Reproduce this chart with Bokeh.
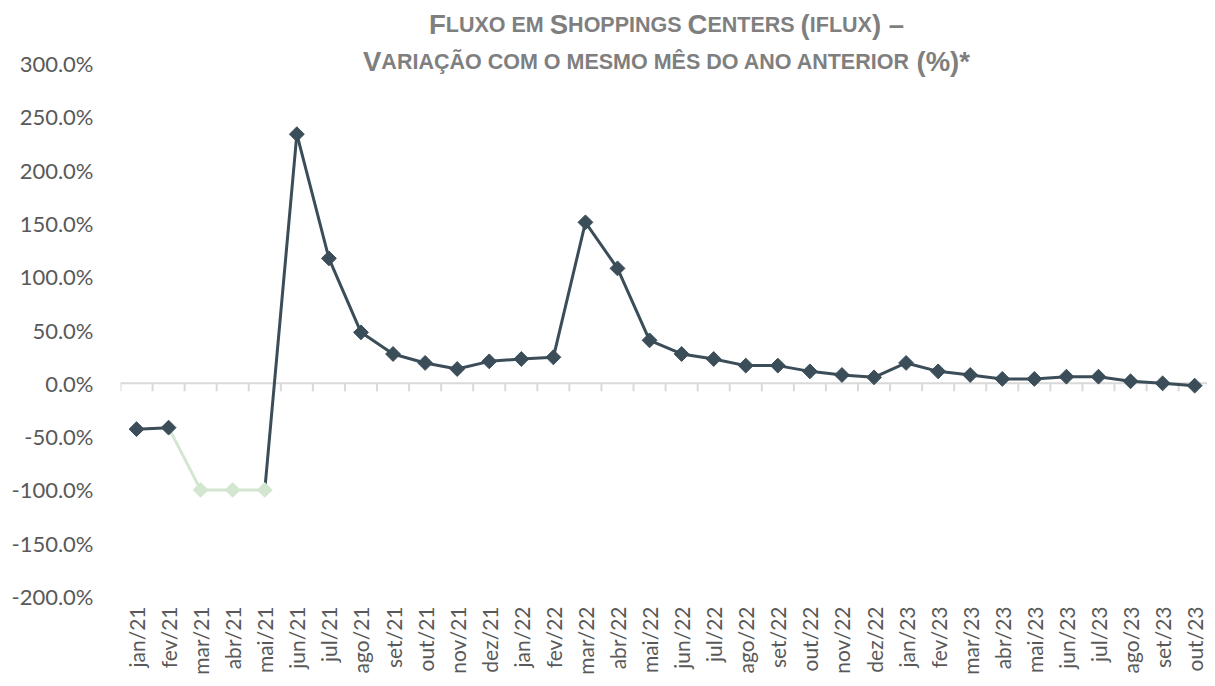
import math
from bokeh.plotting import figure
from bokeh.models import Range1d, FixedTicker, PrintfTickFormatter, Span, Label, ColumnDataSource
from bokeh.core.properties import value
from bokeh.embed import file_html
from bokeh.resources import INLINE

# ---------------- data ----------------
months = ["jan/21", "fev/21", "mar/21", "abr/21", "mai/21", "jun/21", "jul/21", "ago/21",
          "set/21", "out/21", "nov/21", "dez/21", "jan/22", "fev/22", "mar/22", "abr/22",
          "mai/22", "jun/22", "jul/22", "ago/22", "set/22", "out/22", "nov/22", "dez/22",
          "jan/23", "fev/23", "mar/23", "abr/23", "mai/23", "jun/23", "jul/23", "ago/23",
          "set/23", "out/23"]
values = [-43.0, -41.6, -100.0, -100.0, -100.0, 233.7, 117.2, 47.8,
          27.5, 19.1, 13.4, 20.6, 22.8, 24.4, 151.0, 107.8,
          40.3, 27.5, 22.8, 16.6, 16.6, 11.2, 7.8, 5.6,
          19.1, 11.2, 7.8, 4.1, 4.1, 6.2, 6.2, 1.9,
          0.0, -2.2]
highlighted_months = ["mar/21", "abr/21", "mai/21"]
y_ticks = [-200, -150, -100, -50, 0, 50, 100, 150, 200, 250, 300]
title_line1 = "Fluxo em Shoppings Centers (iflux) –"
title_line2 = "Variação com o mesmo mês do ano anterior (%)*"

# ---------------- styles ----------------
DARK = "#3a4d58"
LIGHT = "#d3e6d0"
AXIS_GRAY = "#d9d9d9"
LABEL_GRAY = "#595959"
TITLE_GRAY = "#7f7f7f"
FONT = "Lato"
TITLE_FONT = "Liberation Sans"

W, H = 1207, 678
LEFT = 120
PLOT_TOP, PLOT_BOTTOM = 63, 596      # canvas rows of the 300% and -200% gridlines
PX = (PLOT_BOTTOM - PLOT_TOP) / (y_ticks[-1] - y_ticks[0])
y_start = y_ticks[0] - (H - PLOT_BOTTOM) / PX
y_end = y_ticks[-1] + PLOT_TOP / PX

p = figure(width=W, height=H, output_backend="svg", toolbar_location=None,
           min_border_left=LEFT, min_border_right=0, min_border_top=0,
           min_border_bottom=0, x_axis_location=None,
           x_range=Range1d(-0.5, 33.4), y_range=Range1d(y_start, y_end))
p.outline_line_color = None
p.xgrid.visible = False
p.ygrid.visible = False
p.background_fill_color = "white"
p.border_fill_color = "white"

# y axis
p.yaxis.ticker = FixedTicker(ticks=y_ticks)
p.yaxis.formatter = PrintfTickFormatter(format="%.1f%%")
p.yaxis.axis_line_color = None
p.yaxis.major_tick_line_color = None
p.yaxis.major_tick_out = 0
p.yaxis.major_tick_in = 0
p.yaxis.minor_tick_line_color = None
p.yaxis.major_label_text_font = FONT
p.yaxis.major_label_text_font_size = "22px"
p.yaxis.major_label_text_color = LABEL_GRAY
p.yaxis.major_label_standoff = 27

idx = list(range(len(months)))

# horizontal category axis line crossing at zero, with ticks between categories
zero = Span(location=0, dimension="width", line_color=AXIS_GRAY, line_width=2, level="underlay")
p.add_layout(zero)
tick_len = 8 / PX
bounds = [i - 0.5 for i in range(len(months) + 1)]
p.segment(x0=bounds, y0=[0] * len(bounds), x1=bounds, y1=[-tick_len] * len(bounds),
          line_color=AXIS_GRAY, line_width=2, level="underlay")

# category labels, low position (below the -200% row)
label_y = y_ticks[0] - 10 / PX
p.text(x=idx, y=[label_y] * len(idx), text=months, angle=math.pi / 2,
       text_align="right", text_baseline="middle", text_font=value(FONT),
       text_font_size="21px", text_color=LABEL_GRAY)

# data line: segment colour follows the destination point
colors = [LIGHT if m in highlighted_months else DARK for m in months]
seg = ColumnDataSource(dict(x0=idx[:-1], y0=values[:-1], x1=idx[1:], y1=values[1:],
                            c=colors[1:]))
p.segment(x0="x0", y0="y0", x1="x1", y1="y1", line_color="c", line_width=3,
          line_cap="round", source=seg)
pts = ColumnDataSource(dict(x=idx, y=values, c=colors))
p.scatter(x="x", y="y", marker="square", angle=math.pi / 4, size=10.5,
          fill_color="c", line_color="c", line_width=1, source=pts)

# ---------------- small-caps title ----------------
ARIAL_BOLD = {"A": 722, "B": 722, "C": 722, "D": 722, "E": 667, "F": 611, "G": 778, "H": 722,
              "I": 278, "J": 556, "K": 722, "L": 611, "M": 833, "N": 722, "O": 778, "P": 667,
              "Q": 778, "R": 722, "S": 667, "T": 611, "U": 722, "V": 667, "W": 944, "X": 667,
              "Y": 667, "Z": 611, "Ç": 722, "Ã": 722, "Ê": 667, " ": 278, "(": 333, ")": 333,
              "%": 889, "*": 389, "–": 556}
BIG, SMALL = 27.5, 21.5


def runs_of(text):
    runs = []
    for ch in text:
        if ch == " " and runs:
            runs[-1][0] += ch
            continue
        small = ch.isalpha() and ch.islower()
        size = SMALL if small else BIG
        if runs and runs[-1][1] == size:
            runs[-1][0] += ch.upper()
        else:
            runs.append([ch.upper(), size])
    return runs


def width_of(s, size):
    return sum(ARIAL_BOLD.get(c, 667) for c in s) * size / 1000.0


CENTER_PX = 546  # from frame left
for line, yoff in ((title_line1, 39), (title_line2, 2)):
    runs = runs_of(line)
    total = sum(width_of(s.rstrip(), sz) if k == len(runs) - 1 else width_of(s, sz)
                for k, (s, sz) in enumerate(runs))
    xpos = CENTER_PX - total / 2
    for s, sz in runs:
        if s.strip():
            lead = len(s) - len(s.lstrip())
            p.add_layout(Label(x=-0.5, y=y_ticks[-1], x_units="data", y_units="data",
                               x_offset=xpos + width_of(s[:lead], sz), y_offset=yoff,
                               text=s.strip(), text_font=TITLE_FONT,
                               text_font_size=f"{sz}px", text_font_style="bold",
                               text_color=TITLE_GRAY, text_align="left",
                               text_baseline="alphabetic"))
        xpos += width_of(s, sz)

open("out.html", "w").write(file_html(p, INLINE))
